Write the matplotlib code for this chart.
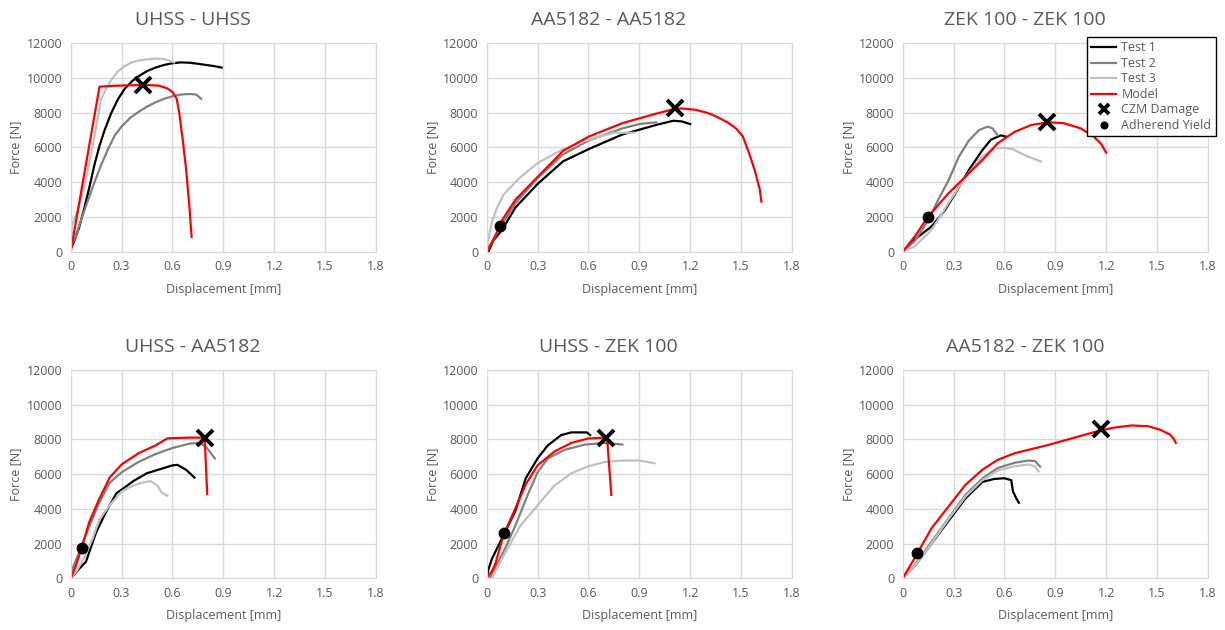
import matplotlib.pyplot as plt

plt.rcParams['font.family'] = ['Open Sans', 'DejaVu Sans']

# ---- UHSS - UHSS
uu_t1_x = [0, 0.02, 0.05, 0.08, 0.11, 0.14, 0.17, 0.2, 0.24, 0.28, 0.32, 0.36, 0.4, 0.45, 0.5, 0.55, 0.6, 0.65, 0.7, 0.75, 0.8, 0.85, 0.89]
uu_t1_y = [150, 600, 1400, 2500, 3700, 5000, 6100, 7000, 8000, 8800, 9400, 9800, 10100, 10400, 10600, 10750, 10850, 10900, 10880, 10820, 10750, 10680, 10600]
uu_t2_x = [0, 0.03, 0.06, 0.1, 0.14, 0.18, 0.22, 0.26, 0.3, 0.35, 0.4, 0.45, 0.5, 0.55, 0.6, 0.65, 0.7, 0.74, 0.77]
uu_t2_y = [300, 900, 1800, 2900, 4000, 5000, 5900, 6700, 7200, 7700, 8050, 8350, 8600, 8800, 8950, 9050, 9080, 9050, 8800]
uu_t3_x = [0, 0.01, 0.04, 0.08, 0.12, 0.15, 0.18, 0.21, 0.24, 0.28, 0.32, 0.36, 0.4, 0.45, 0.5, 0.55, 0.58, 0.61]
uu_t3_y = [400, 1600, 2300, 3800, 5600, 7200, 8800, 9400, 9900, 10400, 10700, 10900, 11000, 11080, 11120, 11100, 11000, 10900]
uu_m_x = [0, 0.17, 0.25, 0.35, 0.45, 0.52, 0.57, 0.6, 0.625, 0.64, 0.66, 0.68, 0.7, 0.713]
uu_m_y = [0, 9500, 9550, 9580, 9600, 9560, 9400, 9200, 8800, 8000, 6500, 4800, 2600, 850]
uu_czm = (0.428, 9600)
uu_yield = None

# ---- AA5182 - AA5182
aa_t1_x = [0.01, 0.04, 0.09, 0.17, 0.3, 0.45, 0.6, 0.8, 1.0, 1.1, 1.15, 1.2]
aa_t1_y = [0, 650, 1250, 2550, 3900, 5200, 5900, 6750, 7300, 7540, 7500, 7350]
aa_t2_x = [0, 0.03, 0.08, 0.17, 0.3, 0.45, 0.6, 0.8, 0.9, 1.0]
aa_t2_y = [0, 500, 1400, 2800, 4250, 5600, 6400, 7100, 7350, 7450]
aa_t3_x = [0, 0.01, 0.03, 0.06, 0.1, 0.2, 0.3, 0.45, 0.6, 0.75, 0.87]
aa_t3_y = [0, 700, 1700, 2500, 3300, 4300, 5100, 5900, 6450, 6850, 6850]
aa_m_x = [0, 0.05, 0.09, 0.17, 0.3, 0.45, 0.6, 0.8, 1.0, 1.1, 1.15, 1.23, 1.3, 1.35, 1.42, 1.47, 1.51, 1.55, 1.58, 1.61, 1.62]
aa_m_y = [0, 900, 1800, 3000, 4300, 5800, 6620, 7400, 7950, 8200, 8250, 8170, 8000, 7800, 7450, 7100, 6650, 5600, 4700, 3600, 2880]
aa_czm = (1.11, 8260)
aa_yield = (0.079, 1500)

# ---- ZEK 100 - ZEK 100
zz_t1_x = [0, 0.07, 0.17, 0.25, 0.31, 0.39, 0.47, 0.52, 0.58, 0.61]
zz_t1_y = [0, 700, 1450, 2400, 3350, 4700, 5850, 6450, 6700, 6620]
zz_t2_x = [0, 0.07, 0.15, 0.21, 0.27, 0.33, 0.39, 0.45, 0.5, 0.53, 0.56]
zz_t2_y = [0, 600, 1800, 3000, 4100, 5450, 6400, 7000, 7200, 7100, 6700]
zz_t3_x = [0, 0.07, 0.17, 0.27, 0.37, 0.47, 0.54, 0.6, 0.65, 0.7, 0.76, 0.815]
zz_t3_y = [0, 300, 1250, 2800, 4300, 5500, 5950, 5980, 5900, 5650, 5400, 5200]
zz_m_x = [0, 0.07, 0.15, 0.27, 0.37, 0.47, 0.56, 0.66, 0.76, 0.86, 0.95, 1.05, 1.13, 1.17, 1.2]
zz_m_y = [0, 860, 2020, 3360, 4320, 5280, 6240, 6900, 7300, 7450, 7400, 7100, 6600, 6200, 5700]
zz_czm = (0.852, 7450)
zz_yield = (0.151, 2020)

# ---- UHSS - AA5182
ua_t1_x = [0, 0.05, 0.09, 0.15, 0.21, 0.27, 0.3, 0.37, 0.45, 0.55, 0.6, 0.63, 0.68, 0.73]
ua_t1_y = [0, 550, 950, 2650, 3850, 4900, 5100, 5600, 6050, 6350, 6500, 6530, 6250, 5800]
ua_t2_x = [0, 0.05, 0.11, 0.17, 0.23, 0.3, 0.4, 0.5, 0.6, 0.7, 0.76, 0.8, 0.85]
ua_t2_y = [300, 1500, 3000, 4400, 5500, 6100, 6700, 7150, 7500, 7750, 7800, 7550, 6900]
ua_t3_x = [0, 0.04, 0.08, 0.13, 0.17, 0.23, 0.3, 0.36, 0.42, 0.47, 0.51, 0.54, 0.57]
ua_t3_y = [0, 500, 1200, 2300, 3400, 4200, 5000, 5300, 5500, 5600, 5350, 4900, 4750]
ua_m_x = [0, 0.03, 0.06, 0.11, 0.17, 0.23, 0.3, 0.4, 0.5, 0.57, 0.6, 0.7, 0.79, 0.805]
ua_m_y = [0, 700, 1600, 3250, 4600, 5800, 6550, 7200, 7650, 8050, 8070, 8100, 8100, 4850]
ua_czm = (0.79, 8060)
ua_yield = (0.065, 1770)

# ---- UHSS - ZEK 100
uz_t1_x = [0, 0.01, 0.03, 0.06, 0.11, 0.17, 0.23, 0.3, 0.36, 0.44, 0.5, 0.59, 0.61]
uz_t1_y = [0, 500, 1100, 1700, 2700, 3900, 5750, 6900, 7650, 8250, 8400, 8400, 8250]
uz_t2_x = [0.02, 0.06, 0.11, 0.17, 0.25, 0.3, 0.36, 0.46, 0.58, 0.7, 0.8]
uz_t2_y = [0, 800, 1750, 3050, 5000, 6100, 6900, 7400, 7700, 7800, 7700]
uz_t3_x = [0.03, 0.1, 0.2, 0.3, 0.4, 0.5, 0.6, 0.7, 0.8, 0.9, 0.99]
uz_t3_y = [0, 1300, 3050, 4200, 5350, 6050, 6450, 6700, 6780, 6780, 6620]
uz_m_x = [0, 0.03, 0.05, 0.1, 0.17, 0.23, 0.3, 0.4, 0.5, 0.6, 0.7, 0.71, 0.735]
uz_m_y = [0, 400, 800, 2500, 4050, 5400, 6500, 7300, 7800, 8050, 8100, 8050, 4800]
uz_czm = (0.705, 8100)
uz_yield = (0.104, 2590)

# ---- AA5182 - ZEK 100
az_t1_x = [0, 0.07, 0.17, 0.27, 0.37, 0.47, 0.54, 0.6, 0.64, 0.65, 0.67, 0.685]
az_t1_y = [0, 700, 2000, 3300, 4600, 5550, 5720, 5760, 5650, 5000, 4600, 4350]
az_t2_x = [0, 0.07, 0.17, 0.27, 0.37, 0.47, 0.56, 0.66, 0.74, 0.78, 0.81]
az_t2_y = [0, 750, 2100, 3450, 4800, 5750, 6350, 6650, 6780, 6750, 6430]
az_t3_x = [0, 0.07, 0.17, 0.27, 0.37, 0.47, 0.56, 0.66, 0.74, 0.78, 0.8]
az_t3_y = [0, 700, 2000, 3400, 4700, 5650, 6200, 6450, 6550, 6450, 6150]
az_m_x = [0, 0.07, 0.17, 0.27, 0.37, 0.47, 0.56, 0.66, 0.86, 1.05, 1.16, 1.25, 1.35, 1.45, 1.52, 1.58, 1.6, 1.61]
az_m_y = [0, 1150, 2880, 4130, 5380, 6250, 6820, 7200, 7680, 8200, 8500, 8680, 8800, 8750, 8550, 8250, 8000, 7800]
az_czm = (1.168, 8590)
az_yield = (0.086, 1440)

titles = ["UHSS - UHSS", "AA5182 - AA5182", "ZEK 100 - ZEK 100",
          "UHSS - AA5182", "UHSS - ZEK 100", "AA5182 - ZEK 100"]
x_ticks = [0, 0.3, 0.6, 0.9, 1.2, 1.5, 1.8]
x_labels = ["0", "0.3", "0.6", "0.9", "1.2", "1.5", "1.8"]
y_ticks = [0, 2000, 4000, 6000, 8000, 10000, 12000]

panels = [
    (uu_t1_x, uu_t1_y, uu_t2_x, uu_t2_y, uu_t3_x, uu_t3_y, uu_m_x, uu_m_y, uu_czm, uu_yield),
    (aa_t1_x, aa_t1_y, aa_t2_x, aa_t2_y, aa_t3_x, aa_t3_y, aa_m_x, aa_m_y, aa_czm, aa_yield),
    (zz_t1_x, zz_t1_y, zz_t2_x, zz_t2_y, zz_t3_x, zz_t3_y, zz_m_x, zz_m_y, zz_czm, zz_yield),
    (ua_t1_x, ua_t1_y, ua_t2_x, ua_t2_y, ua_t3_x, ua_t3_y, ua_m_x, ua_m_y, ua_czm, ua_yield),
    (uz_t1_x, uz_t1_y, uz_t2_x, uz_t2_y, uz_t3_x, uz_t3_y, uz_m_x, uz_m_y, uz_czm, uz_yield),
    (az_t1_x, az_t1_y, az_t2_x, az_t2_y, az_t3_x, az_t3_y, az_m_x, az_m_y, az_czm, az_yield),
]

txt = "#595959"
grid_c = "#d9d9d9"

fig = plt.figure(figsize=(12.25, 6.3), dpi=100)
lefts = [0.0577, 0.3973, 0.7369]
bottoms = [0.6005, 0.0821]
w, h = 0.2492, 0.3308

for i, p in enumerate(panels):
    t1x, t1y, t2x, t2y, t3x, t3y, mx, my, czm, yld = p
    ax = fig.add_axes([lefts[i % 3], bottoms[i // 3], w, h])
    ax.plot(t1x, t1y, color="black", lw=1.6, label="Test 1")
    ax.plot(t2x, t2y, color="#808080", lw=1.6, label="Test 2")
    ax.plot(t3x, t3y, color="#c0c0c0", lw=1.6, label="Test 3")
    ax.plot(mx, my, color="red", lw=1.6, label="Model")
    ax.plot(*czm, ls="none", marker="x", ms=11, mew=2.8, color="black", label="CZM Damage")
    if yld is not None:
        ax.plot(*yld, ls="none", marker="o", ms=7.5, color="black", label="Adherend Yield")
    else:
        ax.plot([], [], ls="none", marker="o", ms=7.5, color="black", label="Adherend Yield")

    ax.set_xlim(0, 1.8)
    ax.set_ylim(0, 12000)
    ax.set_xticks(x_ticks)
    ax.set_xticklabels(x_labels)
    ax.set_yticks(y_ticks)
    ax.grid(True, color=grid_c, lw=1)
    ax.set_axisbelow(True)
    for s in ax.spines.values():
        s.set_color(grid_c)
    ax.tick_params(length=0, colors=txt, labelsize=9, pad=6)
    ax.set_xlabel("Displacement [mm]", color=txt, fontsize=9, labelpad=7)
    ax.set_ylabel("Force [N]", color=txt, fontsize=9, labelpad=3)
    ax.set_title(titles[i], color=txt, fontsize=14, x=0.4, pad=13)

    if i == 2:
        ax.legend(loc="upper right", bbox_to_anchor=(0.9976, 0.951), bbox_transform=fig.transFigure,
                  fontsize=9, frameon=True, fancybox=False, edgecolor="black", framealpha=1,
                  handlelength=2.0, borderpad=0.35, labelspacing=0.2, handletextpad=0.4,
                  markerscale=0.65, labelcolor=txt)

fig.savefig("out.png", dpi=100)
